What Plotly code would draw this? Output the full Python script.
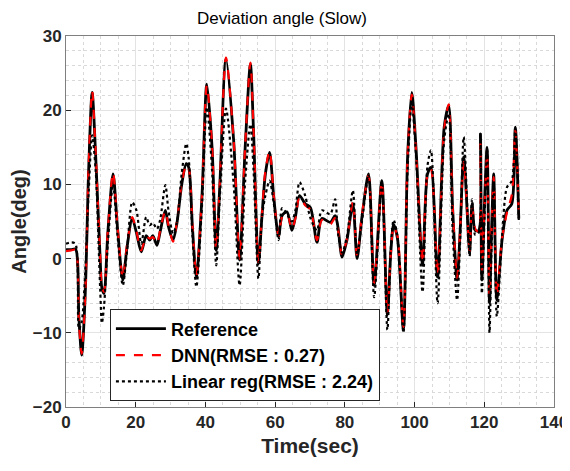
import plotly.graph_objects as go

# Time samples (sec)
time_s = [0, 1.5, 2.7, 3.7, 4.5, 5.5, 6.5, 7.5, 8.5, 9.8, 10.3, 10.9, 12.0, 13.5, 14.8,
          16.3, 17.5, 19.0, 20.2, 21.6, 23.0, 24.0, 24.9, 26.1, 27.0, 28.5, 29.4, 30.7,
          31.8, 33.2, 34.5, 35.2, 36.3, 37.4, 39.0, 40.4, 41.9, 43.1, 44.1, 45.9, 48.1,
          49.8, 51.4, 52.9, 53.8, 55.2, 56.2, 57.2, 58.4, 59.6, 61.0, 62.0, 63.4, 64.8,
          65.8, 67.0, 68.6, 70.1, 72.0, 73.4, 75.8, 77.2, 78.0, 79.2, 80.6, 82.3, 83.5,
          84.9, 86.8, 88.4, 90.6, 92.2, 93.2, 94.0, 95.1, 96.8, 98.0, 99.2, 100.4, 102.3,
          103.7, 104.7, 106.6, 108.5, 109.8, 110.9, 112.2, 113.0, 114.1, 115.5, 115.8,
          116.5, 117.4, 118.4, 118.9, 119.3, 120.1, 120.8, 121.5, 122.1, 122.7, 123.6,
          125.1, 126.5, 127.9, 128.9, 129.9]

reference = [1.2, 1.2, 1.3, -8.0, -13.0, -5.0, 12.0, 22.4, 14.0, 0.0, -4.0, -4.7, 3.5, 11.4, 4.0,
             -2.9, 1.5, 5.4, 3.5, 0.9, 3.1, 2.5, 3.1, 1.8, 3.6, 6.5, 4.3, 2.5,
             4.7, 10.0, 12.8, 12.3, 4.0, -2.5, 8.3, 23.5, 15.0, 1.1, 9.6, 26.9, 15.9,
             -0.2, 15.0, 26.2, 17.2, -0.7, 5.6, 11.4, 14.3, 8.3, 2.9, 5.8, 6.3, 3.8,
             5.6, 8.5, 7.4, 6.9, 2.2, 5.4, 4.9, 5.8, 4.3, 0.2, 2.5, 7.4, 0.0,
             5.6, 11.4, -3.6, 10.5, -7.6, 1.0, 4.6, 2.7, -9.6, 13.7, 22.4, 15.0, -0.9,
             11.4, 12.3, -2.5, 17.7, 20.6, 7.0, -2.9, 3.0, 13.7, 2.5, 0.7,
             7.4, 3.8, 3.8, 16.8, -2.9, 8.0, 15.0, -6.0, 4.0, 11.4, -5.6,
             2.5, 6.5, 7.4, 17.7, 5.4]

dnn = [1.0, 1.1, 1.2, -8.5, -12.8, -5.2, 12.5, 22.6, 14.3, 0.3, -3.8, -4.5, 3.8, 11.6, 4.2,
       -2.6, 1.8, 5.6, 3.7, 1.1, 3.0, 2.7, 2.9, 2.0, 3.8, 6.4, 4.5, 2.3,
       4.9, 10.2, 12.6, 12.2, 4.2, -2.3, 8.5, 23.3, 15.2, 1.3, 9.8, 27.1, 16.0,
       0.0, 15.2, 26.4, 17.4, -0.5, 5.8, 11.8, 14.5, 8.5, 3.1, 5.6, 6.1, 4.0,
       5.4, 8.3, 7.2, 6.6, 2.5, 5.2, 4.6, 5.5, 4.1, 0.5, 2.7, 7.6, 0.3,
       5.8, 11.2, -3.3, 10.3, -7.3, 0.8, 4.3, 3.0, -9.2, 13.9, 22.1, 14.7, -0.6,
       11.2, 12.0, -2.2, 17.4, 20.8, 7.2, -2.6, 3.2, 13.0, 2.8, 1.0,
       7.0, 4.0, 3.6, 15.5, -1.5, 7.5, 14.0, -5.0, 4.5, 11.0, -5.0,
       2.7, 6.2, 8.6, 17.3, 5.6]

linear_reg = [2.0, 2.2, 2.0, -9.5, -8.5, -2.0, 9.0, 16.6, 12.0, -4.0, -8.7, -6.5, 2.0, 10.0, 3.0,
              -3.6, 1.0, 7.6, 6.5, 2.0, 5.6, 4.5, 4.8, 4.0, 5.2, 9.9, 6.5, 3.4,
              4.8, 11.5, 15.5, 13.5, 3.0, -3.8, 7.0, 20.4, 12.0, -0.9, 8.0, 20.2, 10.0,
              -3.6, 10.5, 18.1, 12.0, -2.7, 5.5, 8.5, 10.5, 7.5, 2.5, 6.8, 6.0, 5.0,
              6.5, 10.3, 8.5, 5.5, 3.8, 6.5, 6.0, 8.0, 3.5, 0.8, 3.0, 9.2, 0.5,
              5.0, 11.2, -5.2, 10.0, -9.6, 1.5, 5.2, 3.0, -10.0, 12.0, 21.0, 14.0, -4.5,
              12.5, 14.6, -6.0, 16.0, 19.5, 4.0, -5.6, 1.5, 16.4, 2.5, 0.3,
              8.0, 3.2, 3.5, 17.0, -4.7, 6.0, 14.8, -10.0, 2.0, 10.5, -7.8,
              3.0, 9.6, 10.5, 17.5, 5.2]

x_ticks = [0, 20, 40, 60, 80, 100, 120, 140]
y_ticks = [-20, -10, 0, 10, 20, 30]

AXIS_GREY = '#262626'
FONT = 'Liberation Sans, Arial, sans-serif'

fig = go.Figure()
fig.add_trace(go.Scatter(x=time_s, y=reference, mode='lines', name='Reference',
                         line=dict(color='black', width=2.8, shape='spline', smoothing=0.8)))
fig.add_trace(go.Scatter(x=time_s, y=dnn, mode='lines', name='DNN(RMSE : 0.27)',
                         line=dict(color='#ff0000', width=2.2, dash='dash', shape='spline', smoothing=0.8)))
fig.add_trace(go.Scatter(x=time_s, y=linear_reg, mode='lines', name='Linear reg(RMSE : 2.24)',
                         line=dict(color='black', width=2.2, dash='dot', shape='spline', smoothing=0.8)))

axis_common = dict(
    showline=True, linecolor='#7f7f7f', linewidth=1, mirror=True,
    ticks='inside', ticklen=5, tickcolor=AXIS_GREY,
    showgrid=True, gridcolor='#e3e3e3', gridwidth=1,
    zeroline=False, automargin=False,
    tickfont=dict(family=FONT, size=17, color=AXIS_GREY, weight='bold'),
)

fig.update_xaxes(range=[0, 140], tickvals=x_ticks,
                 minor=dict(dtick=5, showgrid=True, gridcolor='#d9d9d9', griddash='dot', ticks=''),
                 title=dict(text='<b>Time(sec)</b>', font=dict(family=FONT, size=21, color=AXIS_GREY), standoff=6),
                 **axis_common)
fig.update_yaxes(range=[-20, 30], tickvals=y_ticks,
                 minor=dict(dtick=2, showgrid=True, gridcolor='#d9d9d9', griddash='dot', ticks=''),
                 title=dict(text='<b>Angle(deg)</b>', font=dict(family=FONT, size=20, color=AXIS_GREY), standoff=4),
                 **axis_common)

# the page body adds an 8px offset, so the figure is a bit smaller than the window
fig.update_layout(
    width=562, height=463,
    margin=dict(l=58, r=16, t=28, b=64),
    paper_bgcolor='white', plot_bgcolor='white',
    title=dict(text='Deviation angle (Slow)', x=0.4875, xanchor='center', y=0.992, yanchor='top',
               font=dict(family=FONT, size=17, color='black')),
    legend=dict(x=0.09, y=0.015, xanchor='left', yanchor='bottom',
                bgcolor='white', bordercolor=AXIS_GREY, borderwidth=1,
                itemwidth=50, tracegroupgap=0,
                font=dict(family=FONT, size=18, color='black', weight='bold')),
    showlegend=True,
)

fig.write_html("out.html")
